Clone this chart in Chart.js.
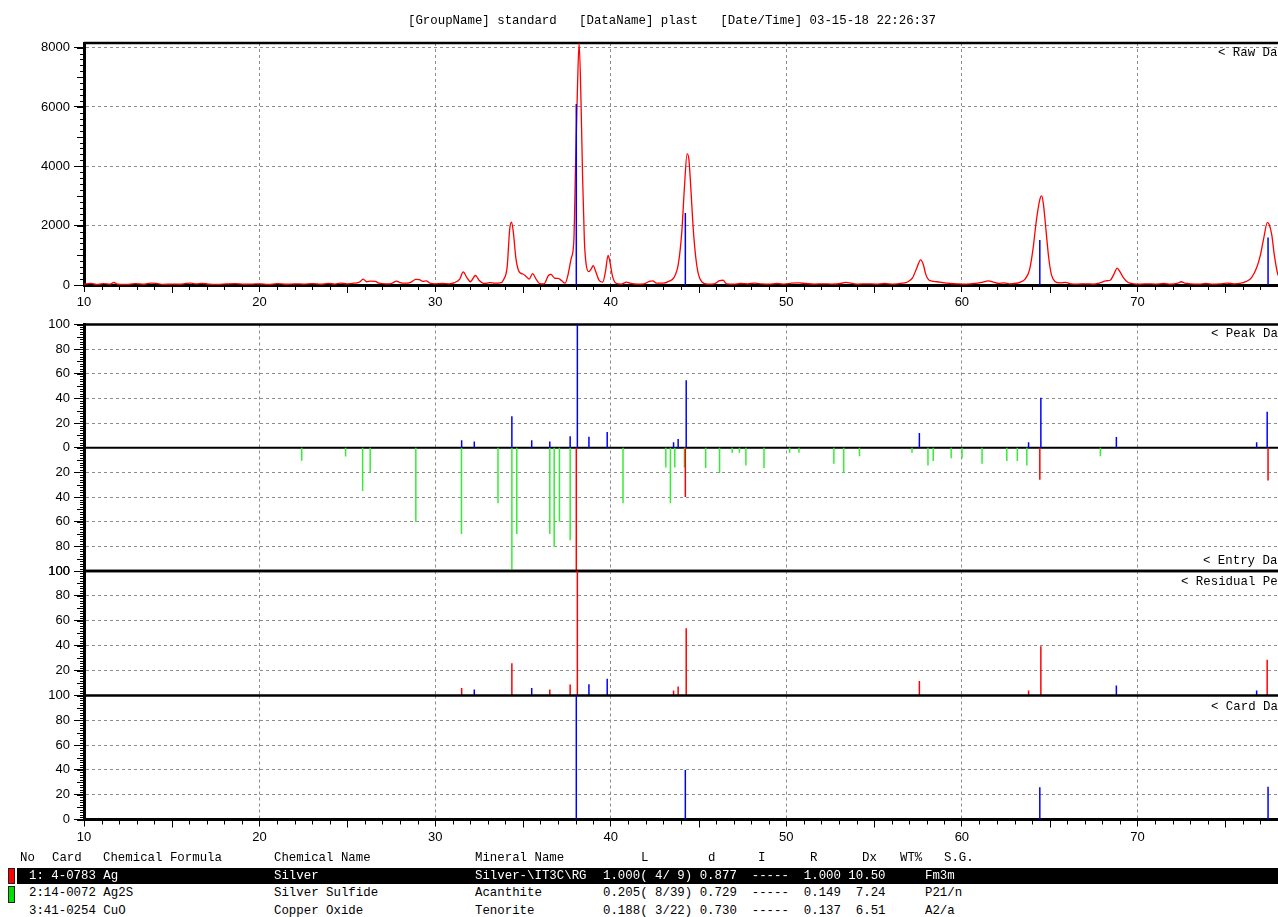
<!DOCTYPE html>
<html>
<head>
<meta charset="utf-8">
<title>plast - standard</title>
<script src="https://cdn.jsdelivr.net/npm/chart.js@4.4.1/dist/chart.umd.min.js"></script>
<style>
  html, body { margin: 0; padding: 0; background: #fff; }
  body { width: 1278px; height: 917px; overflow: hidden; position: relative; }
  canvas { position: absolute; left: 0; }
  .mono { position: absolute; font-family: "Liberation Mono", "DejaVu Sans Mono", monospace; font-size: 12.4px; line-height: 14px; white-space: pre; color: #000; }
  .hl { position: absolute; left: 17px; top: 868px; width: 1261px; height: 16px; background: #000; }
  .mark { position: absolute; left: 8px; width: 5px; border: 1px solid #222; }
</style>
</head>
<body>

<canvas id="rawChart" width="1325" height="320" style="top:0px"></canvas>
<canvas id="peakChart" width="1325" height="290" style="top:300px"></canvas>
<canvas id="residualChart" width="1325" height="155" style="top:555px"></canvas>
<canvas id="cardChart" width="1325" height="175" style="top:680px"></canvas>

<div class="mono" style="left:408px;top:14px">[GroupName] standard   [DataName] plast   [Date/Time] 03-15-18 22:26:37</div>

<div class="mono" style="left:1218px;top:46px">&lt; Raw Data</div>
<div class="mono" style="left:1211px;top:327px">&lt; Peak Data</div>
<div class="mono" style="left:1203px;top:554px">&lt; Entry Data</div>
<div class="mono" style="left:1181px;top:575px">&lt; Residual Peak</div>
<div class="mono" style="left:1211px;top:700px">&lt; Card Data</div>

<div class="mono" style="left:20px;top:851px">No</div>
<div class="mono" style="left:52px;top:851px">Card</div>
<div class="mono" style="left:103px;top:851px">Chemical Formula</div>
<div class="mono" style="left:274px;top:851px">Chemical Name</div>
<div class="mono" style="left:475px;top:851px">Mineral Name</div>
<div class="mono" style="left:641px;top:851px">L</div>
<div class="mono" style="left:708px;top:851px">d</div>
<div class="mono" style="left:758px;top:851px">I</div>
<div class="mono" style="left:810px;top:851px">R</div>
<div class="mono" style="left:862px;top:851px">Dx</div>
<div class="mono" style="left:900px;top:851px">WT%</div>
<div class="mono" style="left:944px;top:851px">S.G.</div>

<div class="hl"></div>
<div class="mark" style="top:868px;height:14px;background:#ff0000"></div>
<div class="mark" style="top:886px;height:15px;background:#00e000"></div>

<div class="mono" style="left:29px;top:869px;color:#fff">1: 4-0783 Ag</div>
<div class="mono" style="left:274px;top:869px;color:#fff">Silver</div>
<div class="mono" style="left:475px;top:869px;color:#fff">Silver-\IT3C\RG</div>
<div class="mono" style="left:603px;top:869px;color:#fff">1.000( 4/ 9) 0.877  -----  1.000 10.50</div>
<div class="mono" style="left:925px;top:869px;color:#fff">Fm3m</div>

<div class="mono" style="left:29px;top:886px">2:14-0072 Ag2S</div>
<div class="mono" style="left:274px;top:886px">Silver Sulfide</div>
<div class="mono" style="left:475px;top:886px">Acanthite</div>
<div class="mono" style="left:603px;top:886px">0.205( 8/39) 0.729  -----  0.149  7.24</div>
<div class="mono" style="left:925px;top:886px">P21/n</div>

<div class="mono" style="left:29px;top:904px">3:41-0254 CuO</div>
<div class="mono" style="left:274px;top:904px">Copper Oxide</div>
<div class="mono" style="left:475px;top:904px">Tenorite</div>
<div class="mono" style="left:603px;top:904px">0.188( 3/22) 0.730  -----  0.137  6.51</div>
<div class="mono" style="left:925px;top:904px">A2/a</div>

<script>
// raw scan (2-theta, counts)
const rawTheta = [
  10.0, 10.4, 10.7, 11.1, 11.5, 11.7, 11.9, 12.4, 12.9, 13.4, 13.8, 14.1, 14.5, 15.0, 15.5, 15.8,
  16.1, 16.4, 16.7, 17.1, 17.6, 18.1, 18.6, 19.1, 19.6, 20.0, 20.5, 21.0, 21.5, 22.0, 22.5, 23.0,
  23.5, 23.9, 24.3, 24.6, 25.0, 25.4, 25.7, 25.9, 26.1, 26.3, 26.6, 26.8, 27.2, 27.5, 27.8, 28.0,
  28.3, 28.6, 28.9, 29.1, 29.3, 29.5, 29.7, 30.0, 30.4, 30.8, 31.1, 31.4, 31.6, 31.8, 32.0, 32.3,
  32.5, 32.8, 33.1, 33.4, 33.7, 33.9, 34.1, 34.25, 34.35, 34.45, 34.6, 34.8, 35.0, 35.2, 35.35, 35.55,
  35.75, 35.95, 36.2, 36.45, 36.6, 36.8, 37.0, 37.2, 37.4, 37.55, 37.75, 37.9, 38.0, 38.1, 38.2, 38.3,
  38.4, 38.5, 38.6, 38.75, 38.9, 39.0, 39.15, 39.35, 39.55, 39.7, 39.85, 39.95, 40.1, 40.3, 40.6, 40.9,
  41.1, 41.5, 41.9, 42.2, 42.4, 42.6, 43.0, 43.3, 43.6, 43.85, 44.05, 44.2, 44.35, 44.45, 44.55, 44.7,
  44.85, 45.0, 45.2, 45.5, 45.9, 46.2, 46.4, 46.6, 47.0, 47.4, 47.8, 48.2, 48.6, 49.0, 49.5, 49.9,
  50.3, 50.7, 51.1, 51.6, 52.1, 52.6, 53.1, 53.4, 53.7, 54.1, 54.6, 55.1, 55.6, 56.1, 56.6, 56.9,
  57.2, 57.45, 57.65, 57.8, 57.95, 58.1, 58.3, 58.6, 58.9, 59.3, 59.7, 60.1, 60.5, 60.9, 61.2, 61.5,
  61.8, 62.1, 62.4, 62.7, 63.0, 63.3, 63.6, 63.85, 64.05, 64.25, 64.45, 64.55, 64.65, 64.8, 64.95, 65.1,
  65.3, 65.6, 65.9, 66.2, 66.6, 67.0, 67.5, 67.9, 68.2, 68.45, 68.65, 68.85, 69.0, 69.2, 69.45, 69.8,
  70.2, 70.6, 71.0, 71.5, 71.9, 72.3, 72.5, 72.7, 73.0, 73.5, 73.9, 74.3, 74.7, 75.1, 75.5, 75.9,
  76.2, 76.5, 76.8, 77.0, 77.2, 77.4, 77.5, 77.65, 77.8, 78.0, 78.3
];
const rawCounts = [
  30, 55, 20, 45, 30, 85, 30, 20, 45, 25, 60, 55, 20, 30, 25, 55,
  60, 40, 55, 30, 20, 35, 45, 25, 30, 40, 20, 45, 25, 40, 30, 45,
  25, 55, 30, 60, 40, 60, 100, 200, 110, 130, 120, 60, 40, 50, 130, 80,
  60, 90, 190, 180, 120, 140, 60, 40, 50, 40, 80, 200, 440, 260, 110, 320,
  160, 50, 80, 60, 70, 180, 600, 1900, 2120, 1800, 900, 430, 370, 280, 200, 380,
  200, 50, 40, 320, 360, 230, 220, 150, 60, 300, 900, 1500, 4100, 6500, 8150, 6400,
  3600, 1500, 700, 450, 550, 650, 450, 150, 100, 450, 1000, 800, 300, 60, 30, 100,
  60, 30, 40, 120, 140, 60, 60, 120, 250, 700, 1800, 3300, 4420, 4250, 3400, 1900,
  900, 350, 100, 30, 40, 150, 160, 40, 30, 50, 40, 60, 40, 30, 50, 30,
  60, 70, 50, 30, 40, 30, 50, 90, 60, 30, 40, 30, 50, 30, 60, 100,
  250, 600, 850, 700, 350, 180, 130, 110, 80, 50, 40, 30, 40, 60, 100, 140,
  100, 50, 70, 40, 50, 90, 200, 500, 1200, 2200, 2900, 3000, 2700, 1800, 900, 350,
  120, 70, 90, 40, 30, 40, 30, 80, 140, 160, 350, 570, 450, 250, 90, 40,
  30, 40, 30, 50, 30, 60, 110, 60, 40, 30, 50, 30, 40, 60, 40, 60,
  120, 250, 600, 1000, 1600, 2100, 2050, 1700, 1000, 350, 150
];

// card lines scaled onto the raw scan
const rawStickTheta = [38.04, 44.25, 64.44, 77.44];
const rawStickCounts = [6100, 2430, 1520, 1600];

// measured peaks (%)
const peakTheta = [31.51, 32.23, 34.37, 35.5, 36.53, 37.69, 38.1, 38.76, 39.8, 43.58, 43.84, 44.3, 57.58, 63.8, 64.5, 68.8, 76.79, 77.39];
const peakInt = [6, 5, 25.5, 6, 5, 9.3, 100, 9, 12.8, 4.4, 7, 54.8, 12, 4.4, 40.5, 8.8, 4.4, 29.3];

// Ag2S card 14-0072 (%)
const ag2sTheta = [22.4, 24.9, 25.87, 26.3, 28.9, 31.5, 33.58, 34.37, 34.65, 36.53, 36.78, 37.08, 37.69, 40.7,
  43.14, 43.4, 43.65, 44.2, 45.41, 46.2, 46.92, 47.33, 47.7, 48.73, 50.19, 50.72, 52.71, 53.27, 54.17,
  57.16, 58.07, 58.37, 59.39, 60.01, 61.15, 62.56, 63.16, 63.7, 67.89];
const ag2sInt = [10.5, 7, 35, 20, 60, 70, 45, 100, 70, 70, 80.5, 60, 75, 45,
  16, 45, 16, 16, 16.4, 20.5, 4, 4, 14.5, 16.4, 4, 4, 12.9, 20.5, 6.8,
  4, 14.5, 10.7, 8.5, 8.5, 12.9, 10.7, 10.7, 14.5, 6.8];

// Ag card 4-0783 (%)
const agTheta = [38.04, 44.25, 64.44, 77.44];
const agInt = [100, 40, 26, 26.5];

// residual peaks (%)
const resRedTheta = [31.51, 34.37, 36.53, 37.69, 38.1, 43.58, 43.84, 44.3, 57.58, 63.8, 64.5, 77.39];
const resRedInt = [6, 26, 4.8, 8.9, 100, 4, 7.3, 54, 11.6, 4, 39.5, 28.8];
const resBlueTheta = [32.23, 35.5, 38.76, 39.8, 68.8, 76.79];
const resBlueInt = [4.8, 6, 9, 13.4, 8, 4];

// tick labels
const xTicks = [10, 20, 30, 40, 50, 60, 70, 80];
const rawYTicks = [0, 2000, 4000, 6000, 8000];
const peakYTicks = [-100, -80, -60, -40, -20, 0, 20, 40, 60, 80, 100];
const pctYTicks = [0, 20, 40, 60, 80, 100];

const tickFont = { family: '"Liberation Sans", Arial, sans-serif', size: 13 };
const GRID = '#8c8c8c';
const NONE = 'rgba(0,0,0,0)';

// small ruler ticks on the axes
const rulerTicks = {
  id: 'rulerTicks',
  afterDraw(chart, args, opts) {
    const { ctx, chartArea: a, scales: { x, y } } = chart;
    ctx.save();
    ctx.strokeStyle = '#000';
    ctx.lineWidth = 1;
    ctx.beginPath();
    if (opts.yStep) {
      for (let i = 0; ; i++) {
        const v = y.min + i * opts.yStep;
        if (v > y.max + 1e-6) break;
        const py = Math.round(y.getPixelForValue(v)) + 0.5;
        const len = Math.abs(v) % opts.yMid < 1e-6 ? 7 : 4;
        ctx.moveTo(a.left - len, py);
        ctx.lineTo(a.left, py);
      }
    }
    if (opts.xStep) {
      for (let v = x.min; v <= x.max; v += opts.xStep) {
        const px = Math.round(x.getPixelForValue(v)) + 0.5;
        const len = v % 10 === 0 ? 0 : (v % 5 === 0 ? 8 : 5);
        ctx.moveTo(px, a.bottom);
        ctx.lineTo(px, a.bottom + len);
      }
    }
    ctx.stroke();
    ctx.restore();
  }
};

// thick panel borders and zero line
const panelFrame = {
  id: 'panelFrame',
  beforeDatasetsDraw(chart, args, opts) {
    const { ctx, chartArea: a, scales: { y } } = chart;
    ctx.save();
    ctx.strokeStyle = '#000';
    const line = (py, w) => {
      ctx.lineWidth = w;
      ctx.beginPath();
      ctx.moveTo(a.left, py);
      ctx.lineTo(a.right, py);
      ctx.stroke();
    };
    line(a.top, 2.5);
    (opts.lines || []).forEach(l => line(y.getPixelForValue(l.v), l.w));
    ctx.restore();
  }
};

function sticks(thetas, values, sign, color, width) {
  const data = [];
  thetas.forEach((t, i) => {
    data.push({ x: t, y: 0 }, { x: t, y: sign * values[i] }, { x: t, y: null });
  });
  return { data, borderColor: color, borderWidth: width, pointRadius: 0, spanGaps: false };
}

function xAxis(showLabels) {
  return {
    type: 'linear', min: 10, max: 80,
    afterFit: s => { s.height = showLabels ? 35 : 0; },
    afterBuildTicks: s => { s.ticks = xTicks.map(v => ({ value: v })); },
    ticks: {
      display: showLabels, autoSkip: false, maxRotation: 0, padding: 3,
      color: '#000', font: tickFont,
      callback: v => (v < 80 ? String(v) : '')
    },
    grid: {
      color: c => (c.tick && c.tick.value > 10 && c.tick.value < 80 ? GRID : NONE),
      lineWidth: 1, drawTicks: showLabels, tickLength: 7, tickColor: '#000', tickWidth: 1
    },
    border: { display: showLabels, color: '#000', width: 3, dash: [3, 3] }
  };
}

function yAxis(min, max, tickValues, label, gridOn) {
  return {
    min, max,
    afterFit: s => { s.width = 84; },
    afterBuildTicks: s => { s.ticks = tickValues.map(v => ({ value: v })); },
    ticks: { autoSkip: false, padding: 4, color: '#000', font: tickFont, callback: label },
    grid: {
      color: c => (c.tick && gridOn(c.tick.value) ? GRID : NONE),
      lineWidth: 1, tickLength: 10, tickColor: '#000', tickWidth: 1
    },
    border: { display: true, color: '#000', width: 3, dash: [3, 3] }
  };
}

function makeChart(id, datasets, o) {
  return new Chart(document.getElementById(id), {
    type: 'line',
    data: { datasets },
    options: {
      responsive: false,
      animation: false,
      events: [],
      layout: { padding: o.padding },
      plugins: {
        legend: { display: false },
        tooltip: { enabled: false },
        rulerTicks: o.ruler,
        panelFrame: { lines: o.lines || [] }
      },
      scales: { x: xAxis(o.xLabels), y: o.y }
    },
    plugins: [rulerTicks, panelFrame]
  });
}

// Raw Data
makeChart('rawChart', [
  sticks(rawStickTheta, rawStickCounts, 1, '#0000ff', 1.5),
  {
    data: rawTheta.map((t, i) => ({ x: t, y: rawCounts[i] })),
    borderColor: '#ff0000', borderWidth: 1.3, pointRadius: 0,
    cubicInterpolationMode: 'monotone'
  }
], {
  padding: { top: 43, bottom: 0, left: 0, right: 12 },
  xLabels: true,
  ruler: { yStep: 200, yMid: 1000, xStep: 1 },
  y: yAxis(0, 8155, rawYTicks, v => v, v => v > 0)
});

// Peak Data (measured up, cards down)
makeChart('peakChart', [
  sticks(agTheta, agInt, -1, '#ff0000', 1.5),
  sticks(peakTheta, peakInt, 1, '#0000ff', 1.5),
  sticks(ag2sTheta, ag2sInt, -1, '#33ee33', 1.5)
], {
  padding: { top: 24.5, bottom: 19, left: 0, right: 12 },
  xLabels: false,
  ruler: { yStep: 2, yMid: 10 },
  lines: [{ v: 0, w: 2 }, { v: -100, w: 2.5 }],
  y: yAxis(-100, 100, peakYTicks, v => Math.abs(v), v => v !== 0 && Math.abs(v) !== 100)
});

// Residual Peak
makeChart('residualChart', [
  sticks(resRedTheta, resRedInt, 1, '#ff0000', 1.5),
  sticks(resBlueTheta, resBlueInt, 1, '#0000ff', 1.5)
], {
  padding: { top: 16, bottom: 14.5, left: 0, right: 12 },
  xLabels: false,
  ruler: { yStep: 2, yMid: 10 },
  y: yAxis(0, 100, pctYTicks, v => (v === 0 ? '' : v), v => v > 0 && v < 100)
});

// Card Data
makeChart('cardChart', [
  sticks(agTheta, agInt, 1, '#0000ff', 1.5)
], {
  padding: { top: 15.5, bottom: 0.5, left: 0, right: 12 },
  xLabels: true,
  ruler: { yStep: 2, yMid: 10, xStep: 1 },
  y: yAxis(0, 100, pctYTicks, v => v, v => v > 0 && v < 100)
});
</script>
</body>
</html>
